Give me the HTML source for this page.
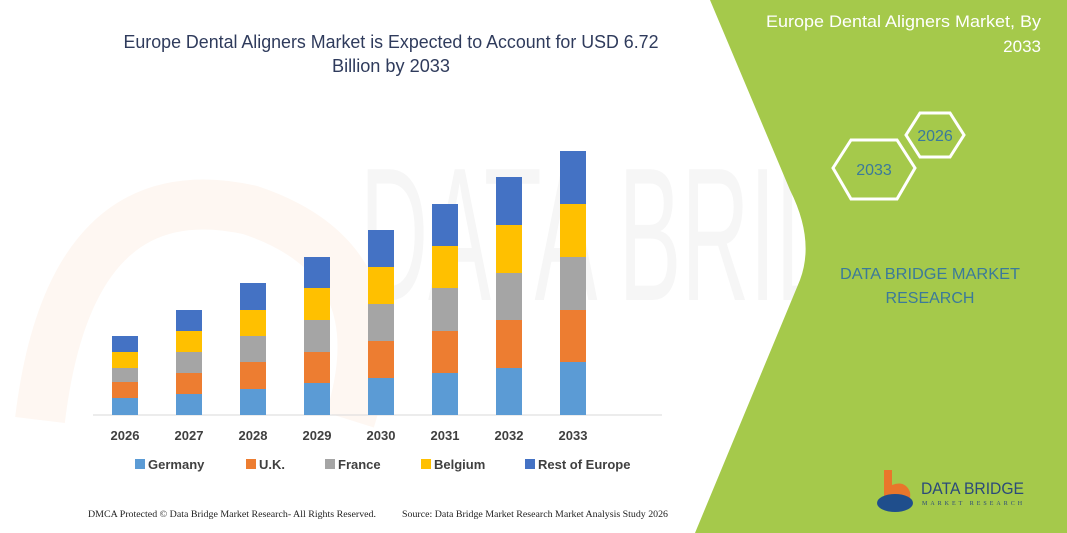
<!DOCTYPE html>
<html><head><meta charset="utf-8"><style>
html,body{margin:0;padding:0;background:#fff;}
svg{display:block;}
</style></head><body>
<svg width="1067" height="533" viewBox="0 0 1067 533" xmlns="http://www.w3.org/2000/svg">
<rect width="1067" height="533" fill="#fff"/>
<text x="360" y="300" font-family="Liberation Sans, sans-serif" font-size="190" fill="#f6f6f6" textLength="620" lengthAdjust="spacingAndGlyphs">DATA BRIDGE</text>
<path d="M40 420 Q70 170 250 210 Q400 260 350 420" fill="none" stroke="#fef7f2" stroke-width="50"/>
<path d="M710 0 L1067 0 L1067 533 L695 533 L800 280 Q815 240 790 190 Z" fill="#a5c94b"/>
<text x="1041" y="27" text-anchor="end" font-family="Liberation Sans, sans-serif" font-size="17" fill="#fff" textLength="275" lengthAdjust="spacingAndGlyphs">Europe Dental Aligners Market, By</text>
<text x="1041" y="52" text-anchor="end" font-family="Liberation Sans, sans-serif" font-size="17" fill="#fff">2033</text>
<polygon points="906,135 920,113 950,113 964,135 950,157 920,157" fill="none" stroke="#fff" stroke-width="3"/>
<text x="935" y="141" text-anchor="middle" font-family="Liberation Sans, sans-serif" font-size="16" fill="#3b7a9a">2026</text>
<polygon points="833,168 851,140 897,140 915,168 897,199 851,199" fill="none" stroke="#fff" stroke-width="3"/>
<text x="874" y="175" text-anchor="middle" font-family="Liberation Sans, sans-serif" font-size="16" fill="#3b7a9a">2033</text>
<text x="930" y="279" text-anchor="middle" font-family="Liberation Sans, sans-serif" font-size="16" fill="#3b7a9a" textLength="180" lengthAdjust="spacingAndGlyphs">DATA BRIDGE MARKET</text>
<text x="930" y="303" text-anchor="middle" font-family="Liberation Sans, sans-serif" font-size="16" fill="#3b7a9a">RESEARCH</text>
<path d="M884 470 L892 470 L892 485 Q905 480 910 492 Q912 505 898 510 L884 510 Z" fill="#e9762b"/>
<ellipse cx="895" cy="503" rx="18" ry="9" fill="#1f4e8c"/>
<text x="921" y="494" font-family="Liberation Sans, sans-serif" font-size="17" fill="#2b4a7a" textLength="103" lengthAdjust="spacingAndGlyphs">DATA BRIDGE</text>
<text x="922" y="505" font-family="Liberation Serif, serif" font-size="6" fill="#2b4a7a" letter-spacing="3">MARKET RESEARCH</text>
<text x="391" y="48" text-anchor="middle" font-family="Liberation Sans, sans-serif" font-size="18" fill="#2f3b5c" textLength="535" lengthAdjust="spacingAndGlyphs">Europe Dental Aligners Market is Expected to Account for USD 6.72</text>
<text x="391" y="72" text-anchor="middle" font-family="Liberation Sans, sans-serif" font-size="18" fill="#2f3b5c" textLength="118" lengthAdjust="spacingAndGlyphs">Billion by 2033</text>
<line x1="93" y1="415" x2="662" y2="415" stroke="#d9d9d9" stroke-width="1"/>
<g>
<rect x="112" y="336" width="26" height="16" fill="#4472c4"/><rect x="112" y="352" width="26" height="16" fill="#ffc000"/><rect x="112" y="368" width="26" height="14" fill="#a5a5a5"/><rect x="112" y="382" width="26" height="16" fill="#ed7d31"/><rect x="112" y="398" width="26" height="17" fill="#5b9bd5"/>
<rect x="176" y="310" width="26" height="21" fill="#4472c4"/><rect x="176" y="331" width="26" height="21" fill="#ffc000"/><rect x="176" y="352" width="26" height="21" fill="#a5a5a5"/><rect x="176" y="373" width="26" height="21" fill="#ed7d31"/><rect x="176" y="394" width="26" height="21" fill="#5b9bd5"/>
<rect x="240" y="283" width="26" height="27" fill="#4472c4"/><rect x="240" y="310" width="26" height="26" fill="#ffc000"/><rect x="240" y="336" width="26" height="26" fill="#a5a5a5"/><rect x="240" y="362" width="26" height="27" fill="#ed7d31"/><rect x="240" y="389" width="26" height="26" fill="#5b9bd5"/>
<rect x="304" y="257" width="26" height="31" fill="#4472c4"/><rect x="304" y="288" width="26" height="32" fill="#ffc000"/><rect x="304" y="320" width="26" height="32" fill="#a5a5a5"/><rect x="304" y="352" width="26" height="31" fill="#ed7d31"/><rect x="304" y="383" width="26" height="32" fill="#5b9bd5"/>
<rect x="368" y="230" width="26" height="37" fill="#4472c4"/><rect x="368" y="267" width="26" height="37" fill="#ffc000"/><rect x="368" y="304" width="26" height="37" fill="#a5a5a5"/><rect x="368" y="341" width="26" height="37" fill="#ed7d31"/><rect x="368" y="378" width="26" height="37" fill="#5b9bd5"/>
<rect x="432" y="204" width="26" height="42" fill="#4472c4"/><rect x="432" y="246" width="26" height="42" fill="#ffc000"/><rect x="432" y="288" width="26" height="43" fill="#a5a5a5"/><rect x="432" y="331" width="26" height="42" fill="#ed7d31"/><rect x="432" y="373" width="26" height="42" fill="#5b9bd5"/>
<rect x="496" y="177" width="26" height="48" fill="#4472c4"/><rect x="496" y="225" width="26" height="48" fill="#ffc000"/><rect x="496" y="273" width="26" height="47" fill="#a5a5a5"/><rect x="496" y="320" width="26" height="48" fill="#ed7d31"/><rect x="496" y="368" width="26" height="47" fill="#5b9bd5"/>
<rect x="560" y="151" width="26" height="53" fill="#4472c4"/><rect x="560" y="204" width="26" height="53" fill="#ffc000"/><rect x="560" y="257" width="26" height="53" fill="#a5a5a5"/><rect x="560" y="310" width="26" height="52" fill="#ed7d31"/><rect x="560" y="362" width="26" height="53" fill="#5b9bd5"/>
</g>
<g font-family="Liberation Sans, sans-serif" font-size="13" font-weight="bold" fill="#404040" text-anchor="middle">
<text x="125" y="440">2026</text><text x="189" y="440">2027</text><text x="253" y="440">2028</text><text x="317" y="440">2029</text><text x="381" y="440">2030</text><text x="445" y="440">2031</text><text x="509" y="440">2032</text><text x="573" y="440">2033</text>
</g>
<g font-family="Liberation Sans, sans-serif" font-size="13" font-weight="bold" fill="#404040">
<rect x="135" y="459" width="10" height="10" fill="#5b9bd5"/><text x="148" y="469">Germany</text>
<rect x="246" y="459" width="10" height="10" fill="#ed7d31"/><text x="259" y="469">U.K.</text>
<rect x="325" y="459" width="10" height="10" fill="#a5a5a5"/><text x="338" y="469">France</text>
<rect x="421" y="459" width="10" height="10" fill="#ffc000"/><text x="434" y="469">Belgium</text>
<rect x="525" y="459" width="10" height="10" fill="#4472c4"/><text x="538" y="469">Rest of Europe</text>
</g>
<g font-family="Liberation Serif, serif" font-size="9.5" fill="#222">
<text x="88" y="517" textLength="288" lengthAdjust="spacingAndGlyphs">DMCA Protected © Data Bridge Market Research-  All Rights Reserved.</text>
<text x="402" y="517" textLength="266" lengthAdjust="spacingAndGlyphs">Source:  Data Bridge Market Research  Market  Analysis Study 2026</text>
</g>
</svg>
</body></html>
